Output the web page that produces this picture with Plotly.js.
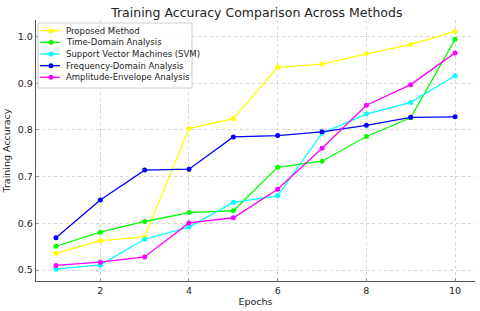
<!DOCTYPE html>
<html>
<head>
<meta charset="utf-8">
<script src="https://cdn.plot.ly/plotly-3.0.1.min.js"></script>
<style>html,body{margin:0;padding:0;background:#fff;}#chart{width:480px;height:311px;}</style>
</head>
<body>
<div id="chart"></div>
<script>
const epochs = [1, 2, 3, 4, 5, 6, 7, 8, 9, 10];
const proposed = [0.536, 0.563, 0.571, 0.803, 0.824, 0.934, 0.941, 0.963, 0.983, 1.011];
const timeDomain = [0.551, 0.581, 0.604, 0.623, 0.627, 0.720, 0.733, 0.786, 0.826, 0.994];
const svm = [0.502, 0.511, 0.566, 0.592, 0.645, 0.659, 0.793, 0.834, 0.859, 0.916];
const freqDomain = [0.569, 0.650, 0.714, 0.716, 0.785, 0.788, 0.796, 0.810, 0.827, 0.828];
const amplitude = [0.510, 0.517, 0.528, 0.601, 0.612, 0.673, 0.761, 0.853, 0.897, 0.965];
const seriesNames = ['Proposed Method', 'Time-Domain Analysis', 'Support Vector Machines (SVM)', 'Frequency-Domain Analysis', 'Amplitude-Envelope Analysis'];
const seriesColors = ['#ffff00', '#00ff00', '#00ffff', '#0000ff', '#ff00ff'];
const xTicks = [2, 4, 6, 8, 10];
const yTicks = [0.5, 0.6, 0.7, 0.8, 0.9, 1.0];

const allSeries = [proposed, timeDomain, svm, freqDomain, amplitude];
const traces = allSeries.map((ys, i) => ({
  x: epochs, y: ys, type: 'scatter', mode: 'lines+markers', name: seriesNames[i],
  line: {color: seriesColors[i], width: 1.3},
  marker: {color: seriesColors[i], size: 5},
  showlegend: false
}));

// Compact matplotlib-style legend (plot area: 36..475 px wide, 20..281 px tall)
const M = {l: 36, r: 5, t: 20, b: 30};
const PW = 480 - M.l - M.r, PH = 311 - M.t - M.b;
const px = p => (p - M.l) / PW;
const py = p => (311 - M.b - p) / PH;
const shapes = [{
  type: 'rect', xref: 'paper', yref: 'paper',
  x0: px(38), x1: px(192), y0: py(88), y1: py(23),
  line: {color: '#cccccc', width: 1}, fillcolor: 'rgba(255,255,255,0.85)', layer: 'above'
}];
const annotations = [];
seriesNames.forEach((name, i) => {
  const rowY = py(30.7 + i * 11.65);
  shapes.push({type: 'line', xref: 'paper', yref: 'paper', x0: px(40), x1: px(60), y0: rowY, y1: rowY,
    line: {color: seriesColors[i], width: 1.3}, layer: 'above'});
  shapes.push({type: 'circle', xref: 'paper', yref: 'paper', xsizemode: 'pixel', ysizemode: 'pixel',
    xanchor: px(51), yanchor: rowY, x0: -2.5, x1: 2.5, y0: -2.5, y1: 2.5,
    fillcolor: seriesColors[i], line: {width: 0}, layer: 'above'});
  annotations.push({xref: 'paper', yref: 'paper', x: px(64), y: rowY, xanchor: 'left', yanchor: 'middle',
    text: name, showarrow: false, font: {size: 8.5, color: '#222'}});
});

const layout = {
  width: 480, height: 311,
  margin: M,
  paper_bgcolor: '#fff', plot_bgcolor: '#fff',
  font: {family: 'DejaVu Sans, sans-serif', color: '#222'},
  title: {text: 'Training Accuracy Comparison Across Methods', font: {size: 12.5, color: '#222'}, x: 0.535, xanchor: 'center', y: 0.96, yanchor: 'middle'},
  xaxis: {
    range: [0.55, 10.45], tickvals: xTicks, ticktext: xTicks.map(String),
    showgrid: true, gridcolor: '#cccccc', griddash: 'dot', gridwidth: 0.8,
    showline: true, linecolor: '#555', linewidth: 1.2, zeroline: false,
    ticks: 'inside', ticklen: 3, tickcolor: '#999', tickfont: {size: 9.5, color: '#222'},
    title: {text: 'Epochs', font: {size: 9.5, color: '#222'}, standoff: 3}
  },
  yaxis: {
    range: [0.4766, 1.0354], tickvals: yTicks, ticktext: yTicks.map(v => v.toFixed(1)),
    showgrid: true, gridcolor: '#cccccc', griddash: 'dot', gridwidth: 0.8,
    showline: true, linecolor: '#555', linewidth: 1.2, zeroline: false,
    ticks: 'inside', ticklen: 3, tickcolor: '#999', tickfont: {size: 9.5, color: '#222'},
    title: {text: 'Training Accuracy', font: {size: 9.5, color: '#222'}, standoff: 5}
  },
  shapes: shapes,
  annotations: annotations,
  showlegend: false
};
Plotly.newPlot('chart', traces, layout, {displayModeBar: false, staticPlot: true});
</script>
</body>
</html>
